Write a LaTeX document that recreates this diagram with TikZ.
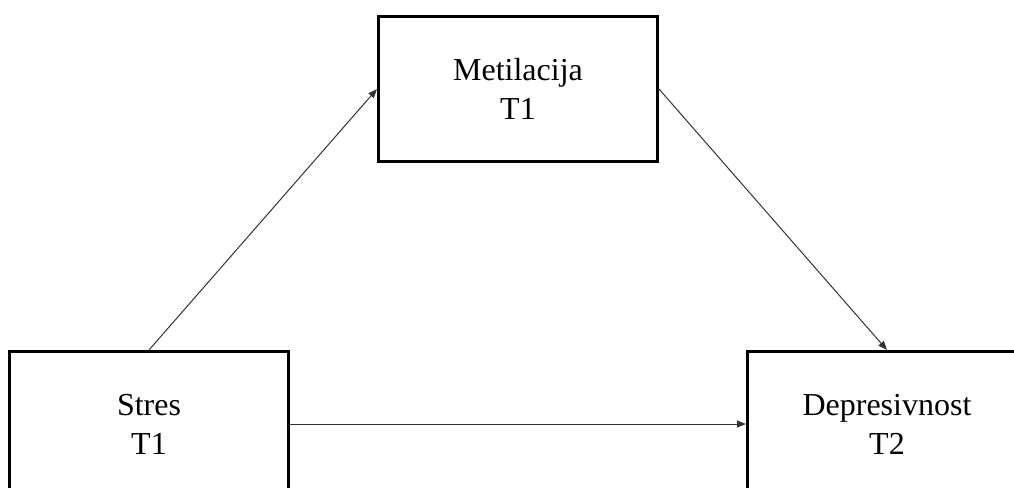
\documentclass[tikz,border=0pt]{standalone}
\usepackage{fontspec}
\setmainfont{Liberation Serif}
\usetikzlibrary{arrows.meta}
\begin{document}
\begin{tikzpicture}[x=0.5pt,y=-0.5pt,
  varbox/.style={draw=black, line width=1.5pt, fill=white,
    minimum width=139.5pt, minimum height=72.5pt, inner sep=0pt,
    align=center, font=\fontsize{16pt}{19.5pt}\selectfont},
  path/.style={draw=black!80, line width=0.5pt,
    -{Triangle[length=4.5pt,width=3.5pt]}}]
  \useasboundingbox (0,0) rectangle (1014,488);
  \clip (0,0) rectangle (1014,488);
  \node[varbox] (met) at (518,89) {Metilacija\\T1};
  \node[varbox] (str) at (149,424) {Stres\\T1};
  \node[varbox] (dep) at (887,424) {Depresivnost\\T2};
  \draw[path] (str.north) -- (met.west);
  \draw[path] (met.east) -- (dep.north);
  \draw[path] (str.east) -- (dep.west);
\end{tikzpicture}
\end{document}
